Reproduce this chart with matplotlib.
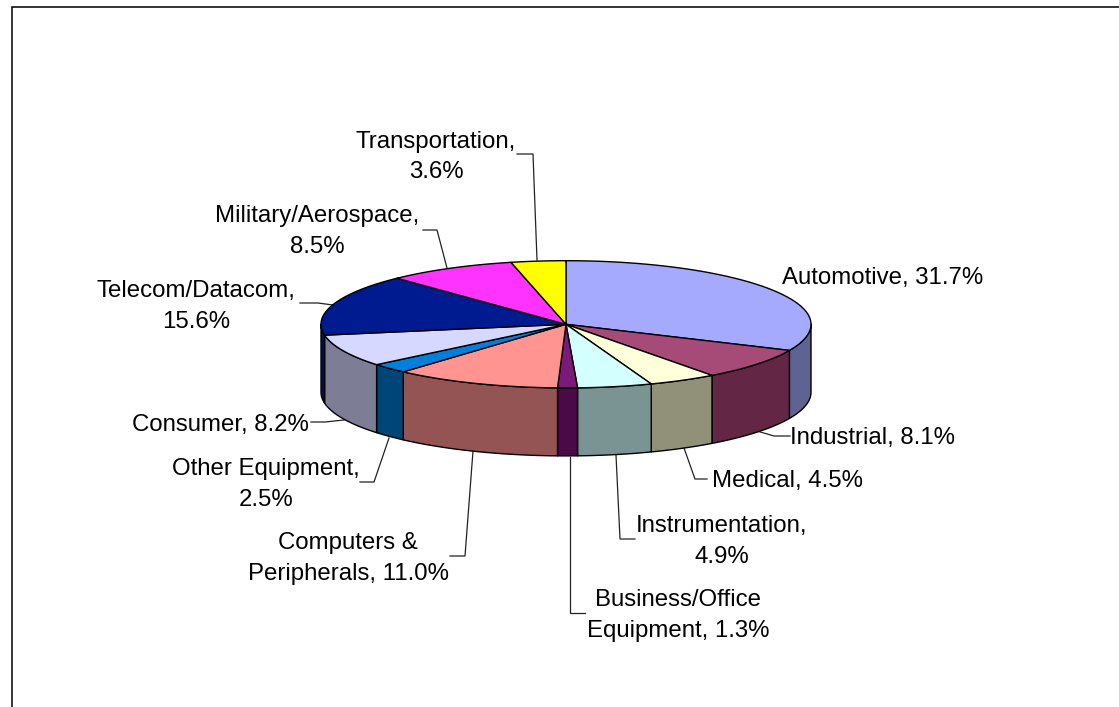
import numpy as np
import matplotlib
matplotlib.use("Agg")
import matplotlib.pyplot as plt

plt.rcParams["font.family"] = ["Liberation Sans", "DejaVu Sans"]

W, H = 1119, 707

# Market segments, clockwise from twelve o'clock
segments = ["Automotive", "Industrial", "Medical", "Instrumentation",
            "Business/Office Equipment", "Computers & Peripherals",
            "Other Equipment", "Consumer", "Telecom/Datacom",
            "Military/Aerospace", "Transportation"]
shares = [31.7, 8.1, 4.5, 4.9, 1.3, 11.0, 2.5, 8.2, 15.6, 8.5, 3.6]
top_colors = ["#A6AAFF", "#A64A77", "#FFFFD9", "#D4FFFF", "#7B1A78", "#FF9490",
              "#0080DC", "#D6D8FF", "#001A8F", "#FF33FF", "#FFFF00"]
side_colors = ["#5F6391", "#632645", "#91917A", "#7A9494", "#4A0A47", "#945454",
               "#004578", "#7D7D96", "#000F55", "#911D91", "#919100"]

# Label text per segment, with its centre and the elbow of its leader line
label_text = ["Automotive, 31.7%", "Industrial, 8.1%", "Medical, 4.5%",
              "Instrumentation,\n4.9%", "Business/Office\nEquipment, 1.3%",
              "Computers &\nPeripherals, 11.0%", "Other Equipment,\n2.5%",
              "Consumer, 8.2%", "Telecom/Datacom,\n15.6%",
              "Military/Aerospace,\n8.5%", "Transportation,\n3.6%"]
label_pos = [(883, 278), (873, 438), (787, 481), (722, 541.5), (678, 615.5),
             (348, 558.5), (266, 484.5), (220, 425), (196, 306.5), (317, 231.5),
             (436, 157)]
leaders = [None,
           [(790, 436), (774, 436), (757, 431)],
           [(707, 479), (695, 479), (684, 448)],
           [(635, 539), (620, 539), (616, 455)],
           [(585, 613), (570, 613), (570, 457)],
           [(450, 556), (465, 556), (473, 451)],
           [(360, 482), (374, 482), (389, 438)],
           [(311, 422), (325, 422), (344, 420)],
           [(300, 303), (318, 303), (333, 305)],
           [(423, 230), (437, 230), (447, 268)],
           [(517, 154), (533, 154), (537, 260)]]

CX, CY, RX, RY, DEPTH = 566, 324.3, 245, 63.6, 68


def rim(theta):
    """Project clockwise-from-top angles onto the tilted disc."""
    return CX + RX * np.sin(theta), CY - RY * np.cos(theta)


fig = plt.figure(figsize=(W / 100, H / 100), dpi=100, facecolor="white")
ax = fig.add_axes([0, 0, 1, 1])
ax.set_xlim(0, W)
ax.set_ylim(H, 0)
ax.axis("off")

fractions = np.array(shares) / np.sum(shares)
edges = 2 * np.pi * np.concatenate([[0], np.cumsum(fractions)])

# Only the near half of the cylinder wall is visible
for start, end, color in zip(edges[:-1], edges[1:], side_colors):
    lo, hi = max(start, np.pi / 2), min(end, 3 * np.pi / 2)
    if lo >= hi:
        continue
    t = np.linspace(lo, hi, 120)
    x, y = rim(t)
    ax.fill(np.r_[x, x[::-1]], np.r_[y, (y + DEPTH)[::-1]],
            facecolor=color, edgecolor="black", lw=1.0, joinstyle="round", zorder=2)

# Top face
for start, end, color in zip(edges[:-1], edges[1:], top_colors):
    t = np.linspace(start, end, 200)
    x, y = rim(t)
    ax.fill(np.r_[CX, x], np.r_[CY, y],
            facecolor=color, edgecolor="black", lw=1.0, joinstyle="round", zorder=3)

for text, (lx, ly), path in zip(label_text, label_pos, leaders):
    ax.text(lx, ly, text, ha="center", va="center", multialignment="center",
            fontsize=17.3, color="black", linespacing=1.5, zorder=5)
    if path:
        px, py = zip(*path)
        ax.plot(px, py, color="#222222", lw=0.9, zorder=1, solid_joinstyle="miter")

# Chart-area border, cut off by the image on the right and at the bottom
ax.plot([12, 12, W], [H, 7, 7], color="#111111", lw=1.2, zorder=6,
        solid_joinstyle="miter", clip_on=True)

fig.savefig("out.png", dpi=100, facecolor="white")
